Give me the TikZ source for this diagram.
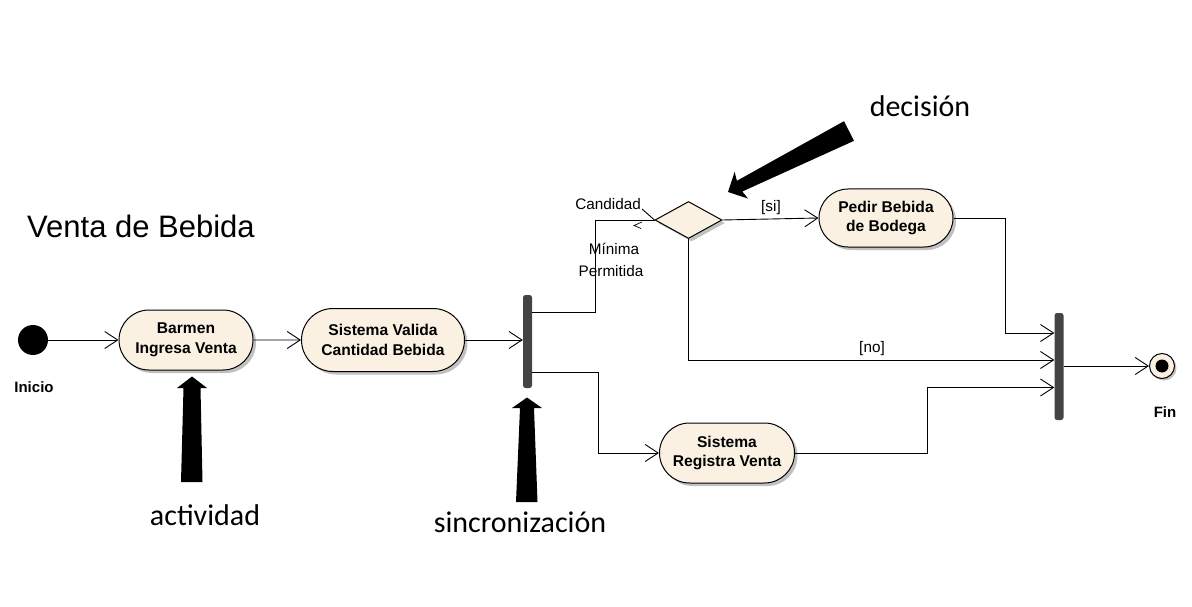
\documentclass[tikz,border=0pt]{standalone}
\usepackage{fontspec}
\setmainfont{Liberation Sans}
\newfontfamily\annfont{Carlito}
\usetikzlibrary{shapes.geometric,shapes.misc,shadows,arrows.meta}
\definecolor{cream}{RGB}{251,241,227}
\definecolor{bargray}{RGB}{68,68,68}
\begin{document}
\begin{tikzpicture}[x=1pt,y=-1pt,
  flow/.style={draw=black, line width=0.9pt, -{Straight Barb[length=13pt,width=17pt,line width=0.9pt]}},
  plain/.style={draw=black, line width=0.9pt},
  act/.style={rounded rectangle, draw=black, line width=1pt, fill=cream, inner sep=0pt, align=center,
    font=\fontsize{15.6}{19.5}\selectfont\bfseries,
    drop shadow={shadow xshift=3pt,shadow yshift=-3pt,fill=black!30,opacity=.8}},
  syncbar/.style={rectangle, rounded corners=2.5pt, fill=bargray, minimum width=9pt, inner sep=0pt},
  lbl/.style={font=\fontsize{15.3}{18}\selectfont, inner sep=0pt},
  blbl/.style={font=\fontsize{15}{18}\selectfont\bfseries, inner sep=0pt},
  ann/.style={font=\annfont\fontsize{30}{36}\selectfont, inner sep=0pt},
  bigarrow/.style={fill=black, draw=none}
]
\useasboundingbox (0,0) rectangle (1192,607);

% title
\node[font=\fontsize{31}{36}\selectfont, inner sep=0pt, anchor=west] (title) at (27,226) {Venta de Bebida};

% nodes
\node[circle, fill=black, minimum size=30pt, inner sep=0pt] (start) at (33,340) {};
\node[blbl] (inicio) at (34,387) {Inicio};
\node[act, minimum width=134pt, minimum height=60pt] (barmen) at (186,340) {Barmen\\Ingresa Venta};
\node[act, minimum width=163pt, minimum height=63pt] (valida) at (383,340) {Sistema Valida\\Cantidad Bebida};
\node[syncbar, minimum height=93pt] (bar1) at (527.5,341.5) {};
\node[diamond, draw=black, line width=1pt, fill=cream, minimum width=67pt, minimum height=37pt, aspect=1.8, inner sep=0pt,
  drop shadow={shadow xshift=3pt,shadow yshift=-3pt,fill=black!30,opacity=.8}] (dec) at (688.5,220) {};
\node[act, minimum width=134pt, minimum height=58pt] (pedir) at (886,218) {Pedir Bebida\\de Bodega};
\node[act, minimum width=135pt, minimum height=60pt] (registra) at (727,453) {Sistema\\Registra Venta};
\node[syncbar, minimum height=107pt] (bar2) at (1059,366.5) {};
\node[circle, draw=black, line width=1pt, fill=cream, minimum size=25pt, inner sep=0pt,
  drop shadow={shadow xshift=2pt,shadow yshift=-2pt,fill=black!30,opacity=.8}] (fin) at (1162,366) {};
\node[circle, fill=black, minimum size=13pt, inner sep=0pt] (findot) at (fin.center) {};
\node[blbl] (finlbl) at (1165,412) {Fin};

% texts near decision
\node[lbl, anchor=east] (cand) at (641,204) {Candidad};
\node[lbl] (minima) at (614,249) {Mínima};
\node[lbl] (permit) at (611,271) {Permitida};
\node[lbl] (si) at (771,208) {[si]};
\node[lbl] (no) at (872,349) {[no]};

% connectors
\draw[flow] (start) -- (barmen);
\draw[flow] (barmen) -- (valida);
\draw[flow] (valida.east) -- (bar1.west |- valida.east);
\draw[plain] ([yshift=29.5pt]bar1.east) -- ++(63,0) |- (dec.west);
\coordinate (barbtop) at (642,209);
\draw[plain] (barbtop) -- (dec.west);
\draw[plain, line width=0.7pt] (642,222) -- (634,225.5) -- (641,228.5);
\draw[flow] (dec.east) -- (pedir.west);
\draw[flow] (pedir.east) -- ++(52,0) |- ([yshift=33.5pt]bar2.west);
\draw[flow] (dec.south) |- ([yshift=6.5pt]bar2.west);
\draw[flow] ([yshift=-30.5pt]bar1.east) -- ++(66,0) |- (registra.west);
\draw[flow] (registra.east) -- ++(132,0) |- ([yshift=-21pt]bar2.west);
\draw[flow] (bar2.east |- fin.west) -- (fin.west);

% annotations
\node[ann] (decis) at (920,106) {decisión};
\node[ann] (activ) at (205,515) {actividad};
\node[ann] (sincr) at (520,522) {sincronización};

% big arrows
\fill[bigarrow] (181,482) -- (183.5,388) -- (177,388) -- (192,376.5) -- (207,388) -- (200.5,388) -- (202.5,482) -- cycle;
\fill[bigarrow] (516,502) -- (520,408) -- (512,408) -- (527,397.5) -- (542,408) -- (534,408) -- (537.5,502) -- cycle;
\fill[bigarrow] (728,192) -- (748.1,198.6) -- (742.3,191.5) -- (854,140.8) -- (844,121.2) -- (736.9,180.8) -- (734.6,171.9) -- cycle;
\end{tikzpicture}
\end{document}
